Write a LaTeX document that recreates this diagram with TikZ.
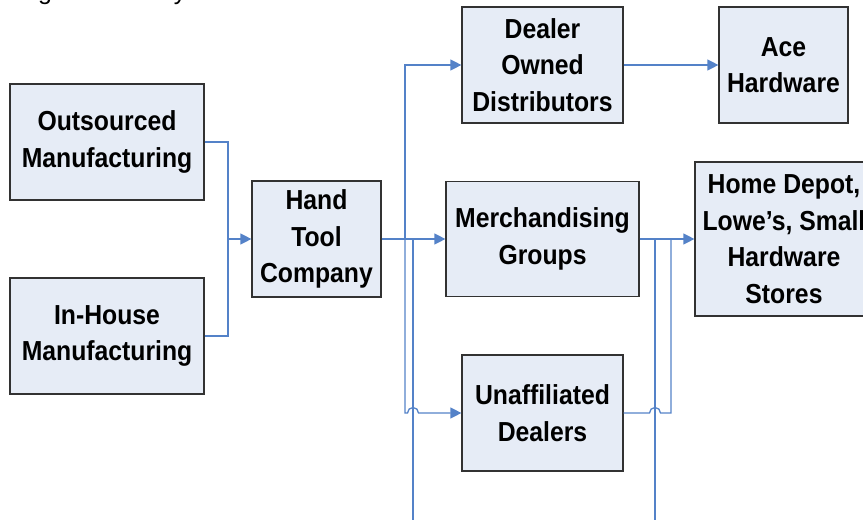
\documentclass[tikz,border=0pt]{standalone}
\usepackage{fontspec}
\setmainfont{Liberation Sans}
\newfontfamily\boxfont{Liberation Sans}[FakeStretch=0.9]
\usetikzlibrary{arrows.meta}
\definecolor{boxfill}{RGB}{230,236,246}
\definecolor{boxline}{RGB}{50,50,50}
\definecolor{flow}{RGB}{84,130,200}

\begin{document}
\begin{tikzpicture}[x=1pt,y=-1pt,
  stage/.style={draw=boxline, fill=boxfill, line width=1.2pt, inner sep=0pt,
    align=center, font=\boxfont\bfseries\fontsize{27.5}{36.5}\selectfont},
  flowline/.style={draw=flow, line width=1.3pt},
  flowarrow/.style={flowline, -{Triangle[length=11pt,width=11pt]}},
  caption/.style={font=\fontsize{25}{30}\selectfont, anchor=base, inner sep=0pt}]

\clip (0,0) rectangle (863,527);

% lower edge of the caption line above the chart
\begin{scope}
  \clip (0,0) rectangle (863,5);
  \node[caption] (capg) at (45,0) {g};
  \node[caption] (capy) at (180,0) {y};
\end{scope}

% stages
\node[stage, minimum width=194pt, minimum height=116pt] (outs)   at (107,142)   {Outsourced\\Manufacturing};
\node[stage, minimum width=194pt, minimum height=116pt] (inh)    at (107,336)   {In-House\\Manufacturing};
\node[stage, minimum width=129pt, minimum height=116pt] (ht)     at (316.5,239) {Hand\\Tool\\Company};
\node[stage, minimum width=161pt, minimum height=116pt] (dealer) at (542.5,65)  {Dealer\\Owned\\Distributors};
\node[stage, minimum width=193pt, minimum height=115pt] (merch)  at (542.5,239) {Merchandising\\Groups};
\node[stage, minimum width=161pt, minimum height=116pt] (unaff)  at (542.5,413) {Unaffiliated\\Dealers};
\node[stage, minimum width=129pt, minimum height=116pt] (ace)    at (783.5,65)  {Ace\\Hardware};
\node[stage, minimum width=178pt, minimum height=154pt] (home)   at (784,239)   {Home Depot,\\Lowe’s, Small\\Hardware\\Stores};

% junction points
\coordinate (mergeIn) at (228,239);
\coordinate (splitA)  at (405,239);
\coordinate (splitB)  at (413,239);
\coordinate (tailB)   at (413,520);
\coordinate (splitC)  at (655,239);
\coordinate (tailC)   at (655,520);
\coordinate (splitD)  at (671,239);

% manufacturing into the company
\draw[flowline] (outs.east) -| (mergeIn);
\draw[flowline] (inh.east) -| (mergeIn);
\draw[flowarrow] (mergeIn) -- (ht.west);

% company to the channels
\draw[flowarrow] (ht.east) -- (merch.west);
\draw[flowarrow] (splitA) |- (dealer.west);
\draw[flowarrow] (splitA) -- (405,413) -- (407.5,413)
  arc[start angle=180, end angle=0, radius=5.5pt] -- (unaff.west);
\draw[flowline] (splitB) -- (tailB);

% channels to the retailers
\draw[flowarrow] (dealer.east) -- (ace.west);
\draw[flowarrow] (merch.east) -- (home.west);
\draw[flowline] (splitC) -- (tailC);
\draw[flowline] (unaff.east) -- (649.5,413)
  arc[start angle=180, end angle=0, radius=5.5pt] -- (671,413) -- (splitD);

\end{tikzpicture}
\end{document}
